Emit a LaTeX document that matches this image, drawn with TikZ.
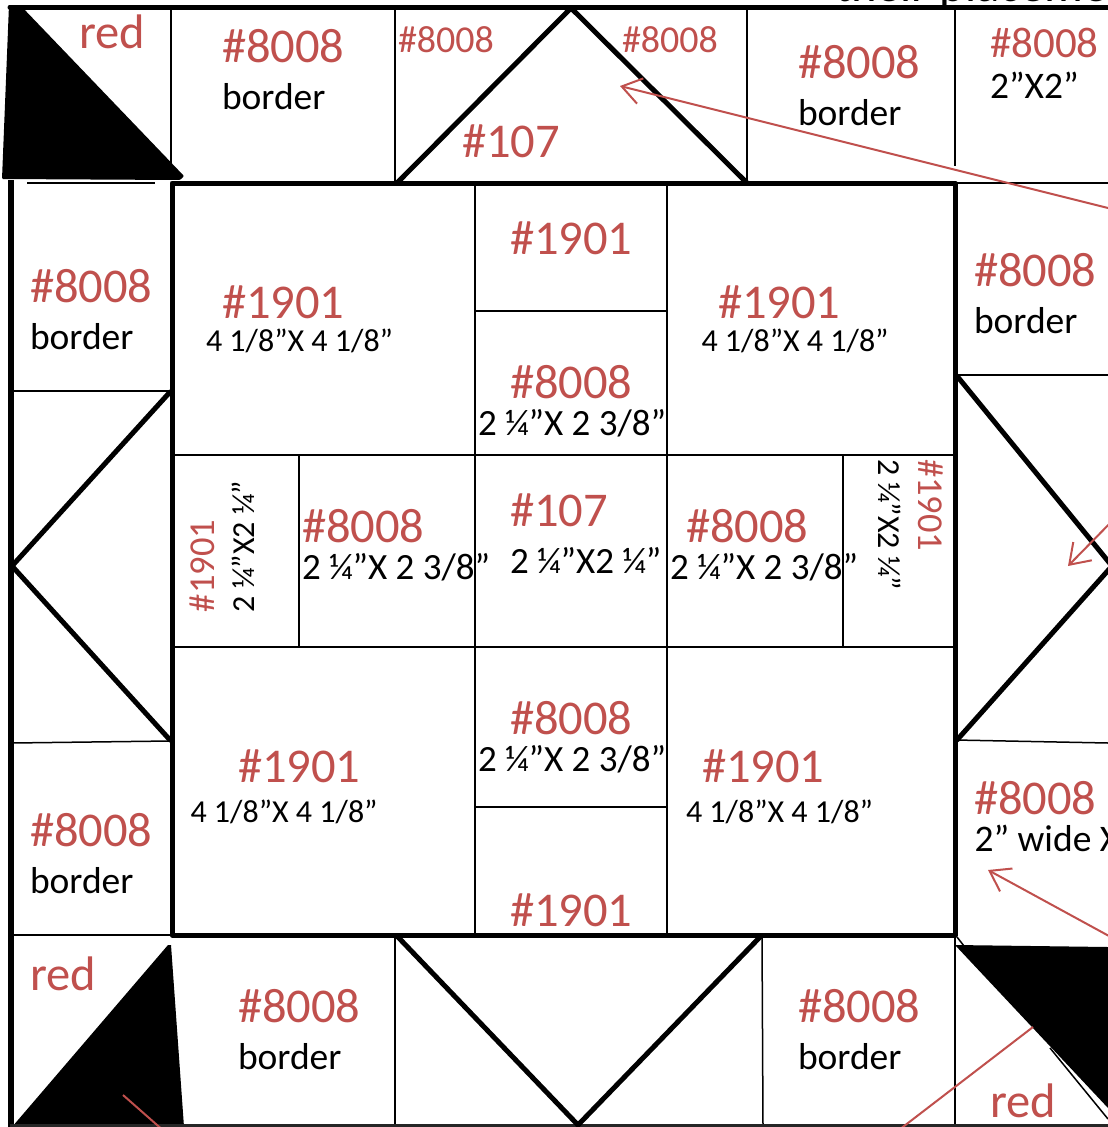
\documentclass[tikz,border=0pt]{standalone}
\usepackage{fontspec}
\setmainfont{Carlito}
\usetikzlibrary{arrows.meta}
\definecolor{quiltred}{HTML}{C0504D}
\tikzset{
  lab/.style={anchor=base west,inner sep=0pt,outer sep=0pt},
  redbig/.style={lab,text=quiltred,font=\fontsize{48.5}{52}\selectfont},
  redmed/.style={lab,text=quiltred,font=\fontsize{43}{46}\selectfont},
  redsmall/.style={lab,text=quiltred,font=\fontsize{38}{40}\selectfont},
  redside/.style={lab,text=quiltred,font=\fontsize{36.5}{40}\selectfont},
  word/.style={lab,text=black,font=\fontsize{37.5}{40}\selectfont},
  dims/.style={lab,text=black,font=\fontsize{37}{40}\selectfont},
  dimsmall/.style={lab,text=black,font=\fontsize{32}{34}\selectfont},
  seam/.style={line width=2pt,black},
  fine/.style={line width=1.5pt,black},
  heavy/.style={line width=5pt,black,line cap=round,line join=round},
  pointer/.style={line width=2pt,quiltred},
  pointerhead/.style={pointer,-{Straight Barb[length=19pt,width=26pt,line width=2pt]}}
}
\begin{document}
\begin{tikzpicture}[x=1pt,y=-1pt]
    \useasboundingbox (0,0) rectangle (1108,1127);
    \clip (0,0) rectangle (1108,1127);
    \fill[white] (0,0) rectangle (1108,1127);
    % inner block
    \draw[seam] (475,183) -- (475,935);
    \draw[seam] (667,183) -- (667,935);
    \draw[seam] (172,455) -- (955,455);
    \draw[seam] (172,647) -- (955,647);
    \draw[seam] (475,311) -- (667,311);
    \draw[seam] (475,807) -- (667,807);
    \draw[seam] (299,455) -- (299,647);
    \draw[seam] (843,455) -- (843,647);
    % border cells
    \draw[seam] (171,7) -- (171,178);
    \draw[seam] (395,7) -- (395,183);
    \draw[seam] (747,7) -- (747,183);
    \draw[seam] (955,7) -- (955,166);
    \draw[seam] (955,183) -- (1108,183);
    \draw[seam] (955,375) -- (1108,375);
    \draw[seam] (12,391) -- (170,391);
    \draw[fine] (12,743) -- (170,741);
    \draw[fine] (955,740) -- (1108,743);
    \draw[seam] (12,935) -- (170,935);
    \draw[seam] (395,936) -- (395,1125);
    \draw[fine] (762,936) -- (763,1125);
    \draw[seam] (955,935) -- (955,1125);
    \draw[fine] (27,183) -- (155,183);
    \draw[fine] (957,937) -- (964,946);
    \draw[fine] (1050,1048) -- (1108,1119);
    % corners
    \fill[black,rounded corners=1pt] (9,5) -- (21,6) -- (184,176) -- (180,180) -- (2,179) -- cycle;
    \fill[black] (12,1127) -- (168,945) -- (171,945) -- (184,1127) -- cycle;
    \fill[black] (955,945) -- (1108,947) -- (1108,1108) -- cycle;
    % outlines
    \draw[heavy] (10,7) -- (1108,7);
    \draw[heavy,line width=5.5pt,line cap=butt] (11,180) -- (11,1127);
    \draw[line width=3pt,black!85] (10,1125) -- (1108,1125);
    \draw[heavy] (172,183) -- (955,183) -- (955,935) -- (172,935) -- cycle;
    \draw[heavy] (397,183) -- (571,8) -- (747,183);
    \draw[heavy] (170,392) -- (12,566) -- (170,740);
    \draw[heavy] (957,376) -- (1112,566) -- (957,740);
    \draw[heavy] (397,936) -- (578,1125) -- (761,936);
    % top row
    \node[redbig,text=black] (cut) at (835,1.5) {their placement};
    \node[redbig] (redtl) at (79,48) {red};
    \node[redbig] (topa) at (222,62) {\#8008};
    \node[word] (topab) at (222,109) {border};
    \node[redsmall] (topb) at (398,52) {\#8008};
    \node[redsmall] (topc) at (622,52) {\#8008};
    \node[redbig] (topd) at (462,157) {\#107};
    \node[redbig] (tope) at (798,78) {\#8008};
    \node[word] (topeb) at (798,125) {border};
    \node[redmed] (topf) at (990,57) {\#8008};
    \node[word] (topfb) at (990,98) {2”X2”};
    % upper row of the block
    \node[redbig] (upa) at (510,254) {\#1901};
    \node[redbig] (upb) at (222,318) {\#1901};
    \node[dimsmall] (upbb) at (206,351) {4 1/8”X 4 1/8”};
    \node[redbig] (upc) at (718,318) {\#1901};
    \node[dimsmall] (upcb) at (701.5,351) {4 1/8”X 4 1/8”};
    \node[redbig] (upd) at (510,398) {\#8008};
    \node[dims] (updb) at (478,435) {2 ¼”X 2 3/8”};
    \node[redbig] (sidea) at (30,302) {\#8008};
    \node[word] (sideab) at (30,349) {border};
    \node[redbig] (sideb) at (974,286) {\#8008};
    \node[word] (sidebb) at (974,333) {border};
    % middle row
    \node[redside,rotate=90] (mida) at (214,612) {\#1901};
    \node[dimsmall,rotate=90] (midab) at (254,612) {2 ¼”X2 ¼”};
    \node[redbig] (midb) at (302,542) {\#8008};
    \node[dims] (midbb) at (302,579) {2 ¼”X 2 3/8”};
    \node[redbig] (midc) at (510,526) {\#107};
    \node[dims] (midcb) at (510,573) {2 ¼”X2 ¼”};
    \node[redbig] (midd) at (686,542) {\#8008};
    \node[dims] (middb) at (670,579) {2 ¼”X 2 3/8”};
    \node[dimsmall,rotate=-90] (mideb) at (878,459) {2 ¼”X2 ¼”};
    \node[redside,rotate=-90] (mide) at (918,459) {\#1901};
    % lower row of the block
    \node[redbig] (lowa) at (510,734) {\#8008};
    \node[dims] (lowab) at (478,771) {2 ¼”X 2 3/8”};
    \node[redbig] (lowb) at (238,782) {\#1901};
    \node[dimsmall] (lowbb) at (190.5,822) {4 1/8”X 4 1/8”};
    \node[redbig] (lowc) at (702,782) {\#1901};
    \node[dimsmall] (lowcb) at (686,822) {4 1/8”X 4 1/8”};
    \node[redbig] (lowd) at (510,926) {\#1901};
    \node[redbig] (sidec) at (30,846) {\#8008};
    \node[word] (sidecb) at (30,893) {border};
    \node[redbig] (sided) at (974,814) {\#8008};
    \node[word] (sidedb) at (974.5,851) {2” wide X};
    % bottom row
    \node[redbig] (redbl) at (30.5,990) {red};
    \node[redbig] (bota) at (238,1022) {\#8008};
    \node[word] (botab) at (238,1069) {border};
    \node[redbig] (botb) at (798,1022) {\#8008};
    \node[word] (botbb) at (798,1069) {border};
    \node[redbig] (redbr) at (990.5,1117) {red};
    % pointers
    \coordinate (pa) at (1120,211);
    \coordinate (pat) at (620,86);
    \coordinate (pb) at (1120,513);
    \coordinate (pbt) at (1068,566);
    \coordinate (pc) at (1120,942);
    \coordinate (pct) at (988,870);
    \coordinate (pd) at (1033,1027);
    \coordinate (pdt) at (895,1133);
    \coordinate (pe) at (123,1095);
    \coordinate (pet) at (165,1132);
    \draw[pointerhead] (pa) -- (pat);
    \draw[pointerhead] (pb) -- (pbt);
    \draw[pointerhead] (pc) -- (pct);
    \draw[pointer] (pd) -- (pdt);
    \draw[pointer] (pe) -- (pet);
\end{tikzpicture}
\end{document}
